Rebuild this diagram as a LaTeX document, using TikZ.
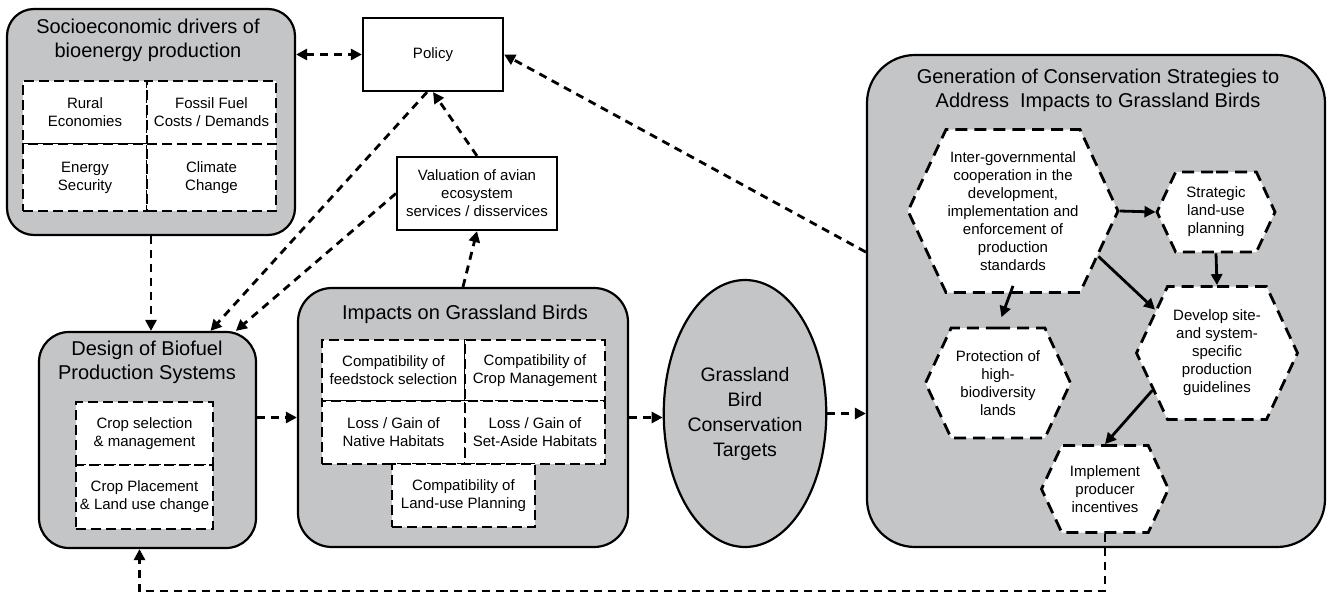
\documentclass[tikz,border=0pt]{standalone}
\usepackage{fontspec}
\setmainfont{Liberation Sans}
\usetikzlibrary{arrows.meta,shapes.geometric,shapes.symbols}
\definecolor{boxgray}{RGB}{196,197,199}
\def\px{0.5pt}

\begin{document}
\begin{tikzpicture}[x=\px, y=-\px,
    every node/.style={align=center, inner sep=0pt, font=\fontsize{7.5}{9}\selectfont},
    >={Triangle[length=5.5pt,width=5.5pt]},
    group/.style={draw, line width=1.1pt, fill=boxgray, rounded corners=15pt},
    head/.style={font=\fontsize{10}{12}\selectfont},
    cell/.style={draw, fill=white, line width=1.4pt, dash pattern=on 5pt off 2.5pt},
    plain/.style={draw, fill=white, line width=1.1pt},
    hexcell/.style={shape=signal, signal to=west and east, signal pointer angle=130, draw, fill=white, line width=1.4pt, dash pattern=on 6pt off 3.5pt},
    link/.style={line width=1.4pt, dash pattern=on 4pt off 3pt, ->},
    flow/.style={line width=1.4pt, ->}]
      \useasboundingbox (0,0) rectangle (1328,594);
      \node[group, minimum width=144pt, minimum height=113pt, rounded corners=13.5pt] (socio) at (151,122) {};
      \node[head] (sociohead) at (148,40) {Socioeconomic drivers of\\bioenergy production};
      \node[cell, minimum width=62pt, minimum height=31.5pt] (rural) at (85,112.5) {Rural\\Economies};
      \node[cell, minimum width=64.5pt, minimum height=31.5pt] (fossil) at (211.5,112.5) {Fossil Fuel\\Costs / Demands};
      \node[cell, minimum width=62pt, minimum height=33.5pt] (energy) at (85,177.5) {Energy\\Security};
      \node[cell, minimum width=64.5pt, minimum height=33.5pt] (climate) at (211.5,177.5) {Climate\\Change};
      \node[plain, minimum width=70pt, minimum height=36.5pt] (policy) at (433,54.5) {Policy};
      \node[plain, minimum width=80pt, minimum height=36.5pt] (valuation) at (477,193.5) {Valuation of avian\\ecosystem\\services / disservices};
      \node[group, minimum width=108.5pt, minimum height=108pt] (design) at (147.5,440) {};
      \node[head] (designhead) at (147,362.5) {Design of Biofuel\\Production Systems};
      \node[cell, minimum width=68.5pt, minimum height=31.5pt] (cropsel) at (144.5,433.5) {Crop selection\\\& management};
      \node[cell, minimum width=68.5pt, minimum height=32pt] (cropplace) at (144.5,497) {Crop Placement\\\& Land use change};
      \node[group, minimum width=165pt, minimum height=129.5pt, rounded corners=17pt] (impacts) at (463,417.5) {};
      \node[head] (impactshead) at (465,314) {Impacts on Grassland Birds};
      \node[cell, minimum width=71.5pt, minimum height=30.5pt] (feedstock) at (393.5,370.5) {Compatibility of\\feedstock selection};
      \node[cell, minimum width=70pt, minimum height=30.5pt] (cropman) at (535,370.5) {Compatibility of\\Crop Management};
      \node[cell, minimum width=71.5pt, minimum height=31.5pt] (native) at (393.5,432.5) {Loss / Gain of\\Native Habitats};
      \node[cell, minimum width=70pt, minimum height=31.5pt] (setaside) at (535,432.5) {Loss / Gain of\\Set-Aside Habitats};
      \node[cell, minimum width=71.5pt, minimum height=31.5pt] (landuse) at (463.5,495.5) {Compatibility of\\Land-use Planning};
      \node[ellipse, draw, line width=1.1pt, fill=boxgray, minimum width=72.5pt, minimum height=133.5pt, font=\fontsize{9.75}{12.5}\selectfont] (target) at (745,413.5) {Grassland\\Bird\\Conservation\\Targets};
      \node[group, minimum width=229pt, minimum height=246pt, rounded corners=24pt] (strategy) at (1096,301) {};
      \node[head] (strategyhead) at (1098,90.5) {Generation of Conservation Strategies to\\Address\ \ Impacts to Grassland Birds};
      \node[hexcell, minimum width=105pt, minimum height=81.5pt] (govern) at (1013,211) {Inter-governmental\\cooperation in the\\development,\\implementation and\\enforcement of\\production\\standards};
      \node[hexcell, minimum width=59pt, minimum height=40pt] (landplan) at (1216,212) {Strategic\\land-use\\planning};
      \node[hexcell, minimum width=80.5pt, minimum height=66.5pt] (guide) at (1217,353) {Develop site-\\and system-\\specific\\production\\guidelines};
      \node[hexcell, minimum width=72.5pt, minimum height=55pt] (protect) at (998,383) {Protection of\\high-\\biodiversity\\lands};
      \node[hexcell, minimum width=63.5pt, minimum height=43.5pt] (incent) at (1105,489) {Implement\\producer\\incentives};
      \coordinate (back) at (0,591);
      \draw[link, <->] (socio.east |- policy.west) -- (policy.west);
      \draw[link] (socio.south) -- (socio.south |- design.north);
      \draw[link] (policy.261) -- (design.60);
      \draw[link] (valuation.west) -- (design.51);
      \draw[link] (valuation.north) -- (policy.south);
      \draw[link] (impacts.north) -- (valuation.south);
      \draw[link] (design.east |- impacts.west) -- (impacts.west);
      \draw[link] (impacts.east) -- (target.west |- impacts.east);
      \draw[link] (target.east) -- (target.east -| strategy.west);
      \draw[link] (strategy.168) -- (policy.east);
      \draw[link] (incent.south) -- (incent.south |- back) -| ([xshift=-4pt]design.south);
      \draw[flow] (govern.east) -- (landplan.west);
      \draw[flow] (landplan.south) -- (guide.north);
      \draw[flow] (govern.-28) -- (guide.145);
      \draw[flow, shorten >=5pt] ([yshift=4pt]govern.south) -- (protect.north);
      \draw[flow] (guide.210) -- (incent.north);
\end{tikzpicture}
\end{document}
